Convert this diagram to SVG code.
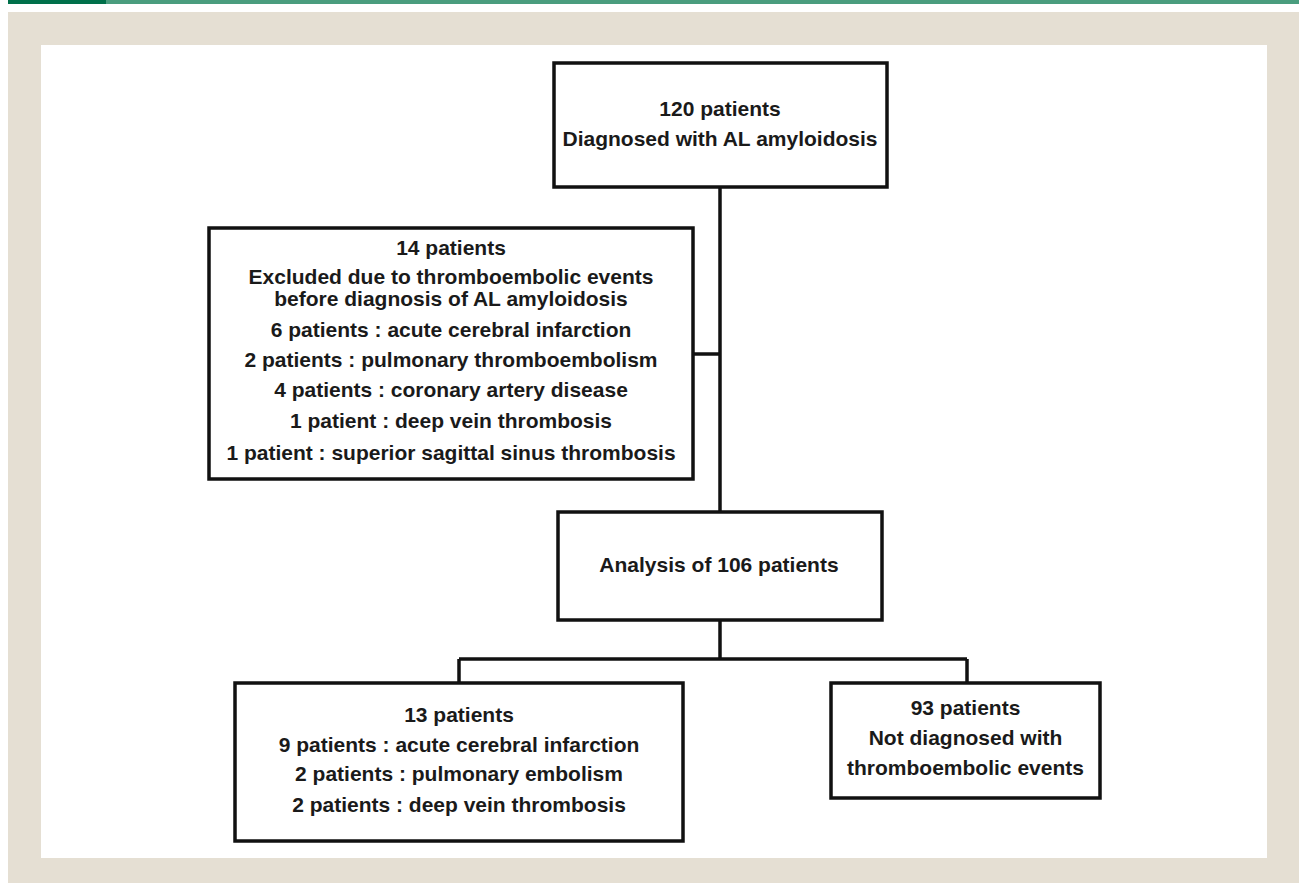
<svg xmlns="http://www.w3.org/2000/svg" width="1299" height="883" viewBox="0 0 1299 883">
<style>
.box{fill:#ffffff;stroke:#111;stroke-width:3.5}
.ln{stroke:#111;stroke-width:3.5;fill:none}
text{font-family:"Liberation Sans",Arial,sans-serif;font-weight:bold;font-size:21px;fill:#1a1a1a;text-anchor:middle}
</style>
<rect x="0" y="0" width="1299" height="883" fill="#ffffff"/>
<rect x="8" y="0" width="98" height="4" fill="#00704a"/>
<rect x="106" y="0" width="1193" height="4" fill="#4a9d7e"/>
<rect x="8" y="12" width="1291" height="871" fill="#e5dfd3"/>
<rect x="41" y="45" width="1226" height="813" fill="#ffffff"/>
<g id="connectors">
<line class="ln" x1="720" y1="187" x2="720" y2="512"/>
<line class="ln" x1="693" y1="354" x2="720" y2="354"/>
<line class="ln" x1="720" y1="620" x2="720" y2="659"/>
<line class="ln" x1="459" y1="659" x2="967" y2="659"/>
<line class="ln" x1="459" y1="659" x2="459" y2="683"/>
<line class="ln" x1="967" y1="659" x2="967" y2="683"/>
</g>
<g id="n-top">
<rect class="box" x="554" y="63" width="333" height="124"/>
<text x="720" y="116">120 patients</text>
<text x="720" y="146">Diagnosed with AL amyloidosis</text>
</g>
<g id="n-excluded">
<rect class="box" x="209" y="228" width="484" height="251"/>
<text x="451" y="255">14 patients</text>
<text x="451" y="284">Excluded due to thromboembolic events</text>
<text x="451" y="306">before diagnosis of AL amyloidosis</text>
<text x="451" y="337">6 patients : acute cerebral infarction</text>
<text x="451" y="367">2 patients : pulmonary thromboembolism</text>
<text x="451" y="397">4 patients : coronary artery disease</text>
<text x="451" y="428">1 patient : deep vein thrombosis</text>
<text x="451" y="460">1 patient : superior sagittal sinus thrombosis</text>
</g>
<g id="n-analysis">
<rect class="box" x="558" y="512" width="324" height="108"/>
<text x="719" y="572">Analysis of 106 patients</text>
</g>
<g id="n-te">
<rect class="box" x="235" y="683" width="448" height="158"/>
<text x="459" y="722">13 patients</text>
<text x="459" y="752">9 patients : acute cerebral infarction</text>
<text x="459" y="781">2 patients : pulmonary embolism</text>
<text x="459" y="812">2 patients : deep vein thrombosis</text>
</g>
<g id="n-none">
<rect class="box" x="831" y="683" width="269" height="115"/>
<text x="965.5" y="715">93 patients</text>
<text x="965.5" y="745">Not diagnosed with</text>
<text x="965.5" y="775">thromboembolic events</text>
</g>
</svg>
